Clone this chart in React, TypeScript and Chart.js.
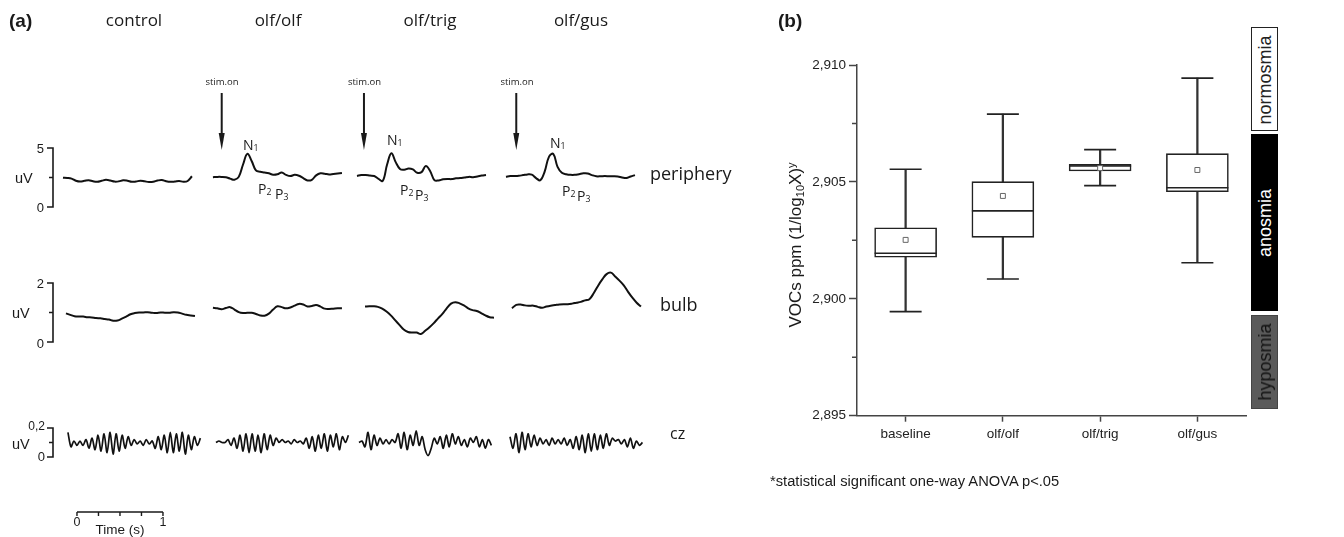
import React, { useEffect, useRef } from 'react';
import { Chart, registerables } from 'chart.js';

Chart.register(...registerables);

// ---------------- Panel (a): evoked potentials ----------------
const COLUMNS = ['control', 'olf/olf', 'olf/trig', 'olf/gus'];
const ROW_LABELS = ['periphery', 'bulb', 'cz'];

const STEP_SLOW = 0.05;
const STEP_CZ = 0.035;
// time (s) at which each column's trace starts, relative to the time bar's 0
const START_PERIPHERY = [-0.163, 1.581, 3.256, 4.988];
const START_BULB = [-0.128, 1.581, 3.349, 5.058];
const START_CZ = [-0.105, 1.616, 3.279, 5.035];
// stimulus onset (s) for the three stimulated columns
const STIM_ON = [1.683, 3.337, 5.108];

// periphery traces (uV)
const PERIPHERY_CONTROL = [2.48, 2.46, 2.4, 2.22, 2.15, 2.22, 2.27, 2.18, 2.14, 2.22, 2.3, 2.24, 2.15, 2.17, 2.26, 2.22, 2.13, 2.16, 2.22, 2.17, 2.12, 2.14, 2.24, 2.28, 2.18, 2.13, 2.15, 2.2, 2.14, 2.2, 2.6];
const PERIPHERY_OLF = [2.52, 2.55, 2.55, 2.52, 2.4, 2.3, 2.55, 3.6, 4.5, 3.9, 3.1, 2.98, 2.92, 2.85, 2.74, 2.78, 2.92, 2.72, 2.62, 2.72, 2.65, 2.45, 2.25, 2.3, 2.68, 2.86, 2.82, 2.76, 2.8, 2.84, 2.88];
const PERIPHERY_TRIG = [2.63, 2.7, 2.71, 2.66, 2.62, 2.38, 2.22, 3.6, 4.55, 3.8, 3.22, 3.16, 3.26, 3.18, 2.9, 2.95, 3.47, 3.05, 2.28, 2.25, 2.35, 2.38, 2.36, 2.43, 2.45, 2.5, 2.55, 2.52, 2.58, 2.66, 2.71];
const PERIPHERY_GUS = [2.57, 2.62, 2.62, 2.64, 2.7, 2.76, 2.74, 2.45, 2.26, 3.0, 4.25, 4.5, 3.4, 2.9, 2.78, 2.72, 2.72, 2.78, 2.85, 2.84, 2.7, 2.6, 2.6, 2.62, 2.6, 2.6, 2.58, 2.5, 2.45, 2.58, 2.7];

// bulb traces (uV)
const BULB_CONTROL = [0.97, 0.92, 0.87, 0.86, 0.86, 0.84, 0.83, 0.81, 0.8, 0.78, 0.76, 0.72, 0.73, 0.79, 0.86, 0.94, 0.98, 1.0, 1.0, 1.01, 0.99, 0.98, 1.0, 0.99, 0.99, 1.01, 1.0, 0.96, 0.92, 0.9, 0.88];
const BULB_OLF = [1.16, 1.14, 1.11, 1.15, 1.18, 1.1, 1.01, 0.98, 0.99, 0.99, 0.95, 0.9, 0.89, 0.96, 1.1, 1.21, 1.18, 1.14, 1.17, 1.23, 1.29, 1.27, 1.2, 1.22, 1.25, 1.2, 1.13, 1.12, 1.13, 1.14, 1.14];
const BULB_TRIG = [1.2, 1.21, 1.21, 1.19, 1.13, 1.03, 0.9, 0.74, 0.58, 0.42, 0.34, 0.32, 0.32, 0.27, 0.38, 0.5, 0.64, 0.8, 0.95, 1.14, 1.3, 1.35, 1.31, 1.24, 1.14, 1.08, 1.05, 0.98, 0.9, 0.84, 0.82];
const BULB_GUS = [1.14, 1.26, 1.27, 1.24, 1.23, 1.23, 1.19, 1.16, 1.2, 1.23, 1.25, 1.27, 1.28, 1.28, 1.3, 1.33, 1.36, 1.41, 1.45, 1.65, 1.9, 2.12, 2.3, 2.35, 2.22, 2.08, 1.92, 1.7, 1.5, 1.33, 1.2];

// cz traces (uV)
const CZ_CONTROL = [0.17, 0.07, 0.11, 0.08, 0.11, 0.08, 0.12, 0.06, 0.13, 0.05, 0.15, 0.04, 0.16, 0.03, 0.17, 0.02, 0.16, 0.04, 0.15, 0.06, 0.14, 0.08, 0.12, 0.09, 0.11, 0.08, 0.12, 0.09, 0.11, 0.06, 0.14, 0.05, 0.15, 0.03, 0.17, 0.03, 0.16, 0.04, 0.17, 0.02, 0.15, 0.05, 0.14, 0.08, 0.13];
const CZ_OLF = [0.1, 0.11, 0.1, 0.1, 0.12, 0.08, 0.13, 0.06, 0.15, 0.04, 0.16, 0.03, 0.16, 0.04, 0.15, 0.03, 0.16, 0.05, 0.15, 0.08, 0.13, 0.1, 0.12, 0.1, 0.11, 0.09, 0.12, 0.1, 0.11, 0.09, 0.13, 0.06, 0.14, 0.04, 0.15, 0.06, 0.16, 0.04, 0.15, 0.07, 0.16, 0.05, 0.14, 0.1, 0.15];
const CZ_TRIG = [0.1, 0.11, 0.07, 0.17, 0.05, 0.15, 0.08, 0.13, 0.09, 0.12, 0.09, 0.12, 0.1, 0.16, 0.06, 0.17, 0.05, 0.15, 0.08, 0.18, 0.08, 0.14, 0.05, 0.01, 0.06, 0.13, 0.09, 0.14, 0.06, 0.15, 0.07, 0.16, 0.09, 0.14, 0.08, 0.12, 0.07, 0.13, 0.1, 0.14, 0.07, 0.12, 0.06, 0.12, 0.08];
const CZ_GUS = [0.14, 0.06, 0.16, 0.03, 0.17, 0.05, 0.16, 0.07, 0.15, 0.08, 0.13, 0.09, 0.12, 0.08, 0.13, 0.09, 0.12, 0.09, 0.13, 0.08, 0.12, 0.06, 0.14, 0.05, 0.15, 0.03, 0.16, 0.04, 0.16, 0.05, 0.15, 0.06, 0.16, 0.08, 0.13, 0.11, 0.12, 0.09, 0.12, 0.07, 0.13, 0.06, 0.11, 0.08, 0.1];

// calibration bars
const PERIPHERY_BAR = [0, 2.5, 5];
const BULB_BAR = [0, 1, 2];
const CZ_BAR = [0, 0.1, 0.2];
const TIME_TICKS = [0, 0.25, 0.5, 0.75, 1];

// ---------------- Panel (b): box plot ----------------
const CATEGORIES = ['baseline', 'olf/olf', 'olf/trig', 'olf/gus'];
const WHISKER_LOW = [2.89945, 2.90085, 2.90484, 2.90154];
const Q1 = [2.90178, 2.90263, 2.90547, 2.90458];
const MEDIAN = [2.90195, 2.90376, 2.90568, 2.90475];
const Q3 = [2.90304, 2.90501, 2.90575, 2.90621];
const WHISKER_HIGH = [2.90554, 2.9079, 2.90638, 2.90944];
const MEAN = [2.90252, 2.9044, 2.90559, 2.90551];
const Y_MIN = 2.895;
const Y_MAX = 2.91;
const Y_STEP = 0.005;
const Y_MINOR_TICKS = [2.8975, 2.9025, 2.9075];

const HUMANIST = '"Open Sans", "Noto Sans", sans-serif';
const ARIAL = '"Liberation Sans", Arial, sans-serif';
const INK = '#1a1a1a';

type TProps = {
  x: number; y: number; size: number; family?: string; anchor?: 'left' | 'center' | 'right';
  weight?: number; color?: string; rotate?: number; children: React.ReactNode;
};
function T({ x, y, size, family = HUMANIST, anchor = 'left', weight = 400, color = INK, rotate = 0, children }: TProps) {
  const tx = anchor === 'left' ? '0' : anchor === 'right' ? '-100%' : '-50%';
  return (
    <div
      style={{
        position: 'absolute', left: x, top: y, fontSize: size, fontFamily: family, fontWeight: weight,
        color, lineHeight: 1, whiteSpace: 'nowrap',
        transform: `translate(${tx}, -50%)` + (rotate ? ` rotate(${rotate}deg)` : ''),
      }}
    >
      {children}
    </div>
  );
}

const sub = (s: string) => <span style={{ fontSize: '0.62em', verticalAlign: '-0.12em' }}>{s}</span>;

function series(values: number[], start: number, step: number) {
  return values.map((v, i) => ({ x: start + i * step, y: v }));
}

export default function App() {
  const refA = useRef<HTMLCanvasElement>(null);
  const refB = useRef<HTMLCanvasElement>(null);

  useEffect(() => {
    const traceStyle = { borderColor: '#111', borderWidth: 2, pointRadius: 0, tension: 0.4, fill: false };
    const czStyle = { borderColor: '#111', borderWidth: 1.7, pointRadius: 0, tension: 0.3, fill: false };
    const periphery = [PERIPHERY_CONTROL, PERIPHERY_OLF, PERIPHERY_TRIG, PERIPHERY_GUS];
    const bulb = [BULB_CONTROL, BULB_OLF, BULB_TRIG, BULB_GUS];
    const cz = [CZ_CONTROL, CZ_OLF, CZ_TRIG, CZ_GUS];
    const datasetsA: any[] = [];
    COLUMNS.forEach((c, i) => {
      datasetsA.push({ label: `${c} ${ROW_LABELS[0]}`, data: series(periphery[i], START_PERIPHERY[i], STEP_SLOW), yAxisID: 'yP', ...traceStyle });
      datasetsA.push({ label: `${c} ${ROW_LABELS[1]}`, data: series(bulb[i], START_BULB[i], STEP_SLOW), yAxisID: 'yB', ...traceStyle });
      datasetsA.push({ label: `${c} ${ROW_LABELS[2]}`, data: series(cz[i], START_CZ[i], STEP_CZ), yAxisID: 'yC', ...czStyle });
    });

    const panelAPlugin = {
      id: 'panelA',
      afterDatasetsDraw(chart: any) {
        const { ctx, scales } = chart;
        const xs = scales.x;
        ctx.save();
        ctx.strokeStyle = INK;
        ctx.fillStyle = INK;
        ctx.lineWidth = 1.6;
        const barX = 53;
        const bars: [any, number[]][] = [[scales.yP, PERIPHERY_BAR], [scales.yB, BULB_BAR], [scales.yC, CZ_BAR]];
        bars.forEach(([s, ticks]) => {
          ctx.beginPath();
          ctx.moveTo(barX, s.getPixelForValue(ticks[ticks.length - 1]));
          ctx.lineTo(barX, s.getPixelForValue(ticks[0]));
          ticks.forEach((t, i) => {
            const py = s.getPixelForValue(t);
            const len = i === 1 ? 4 : 6;
            ctx.moveTo(barX - len, py);
            ctx.lineTo(barX + 0.8, py);
          });
          ctx.stroke();
        });
        STIM_ON.forEach((t) => {
          const px = xs.getPixelForValue(t);
          ctx.lineWidth = 2;
          ctx.beginPath();
          ctx.moveTo(px, 93);
          ctx.lineTo(px, 138);
          ctx.stroke();
          ctx.beginPath();
          ctx.moveTo(px - 3, 133);
          ctx.lineTo(px + 3, 133);
          ctx.lineTo(px, 150);
          ctx.closePath();
          ctx.fill();
        });
        ctx.lineWidth = 1.4;
        const ty = 512;
        ctx.beginPath();
        ctx.moveTo(xs.getPixelForValue(TIME_TICKS[0]), ty);
        ctx.lineTo(xs.getPixelForValue(TIME_TICKS[TIME_TICKS.length - 1]), ty);
        TIME_TICKS.forEach((t) => {
          const px = xs.getPixelForValue(t);
          ctx.moveTo(px, ty);
          ctx.lineTo(px, ty + 4);
        });
        ctx.stroke();
        ctx.restore();
      },
    };

    const chartA = new Chart(refA.current as HTMLCanvasElement, {
      type: 'line',
      data: { datasets: datasetsA },
      options: {
        animation: false,
        responsive: false,
        layout: { padding: 0 },
        plugins: { legend: { display: false }, tooltip: { enabled: false } },
        scales: {
          x: { type: 'linear', min: -0.895, max: 7.942, display: false },
          yP: { type: 'linear', min: -27.97, max: 17.54, display: false },
          yB: { type: 'linear', min: -6.61, max: 11.59, display: false },
          yC: { type: 'linear', min: -0.552, max: 3.152, display: false },
        },
      },
      plugins: [panelAPlugin],
    } as any);

    const minorPlugin = {
      id: 'minorTicks',
      afterDraw(chart: any) {
        const { ctx, chartArea, scales } = chart;
        ctx.save();
        ctx.strokeStyle = '#444';
        ctx.lineWidth = 1.5;
        ctx.beginPath();
        Y_MINOR_TICKS.forEach((v) => {
          const py = scales.y.getPixelForValue(v);
          ctx.moveTo(chartArea.left - 5, py);
          ctx.lineTo(chartArea.left, py);
        });
        ctx.stroke();
        ctx.restore();
      },
    };

    const boxData = CATEGORIES.map((_, i) => [Q1[i], Q3[i]]);
    const stemData = CATEGORIES.map((_, i) => [WHISKER_LOW[i], WHISKER_HIGH[i]]);
    const pointLine = (data: number[], r: number) => ({
      type: 'line', data, showLine: false, pointStyle: 'line', pointRadius: r, pointHoverRadius: r,
      pointBorderColor: '#222', pointBorderWidth: 1.6, order: 0,
    });

    const chartB = new Chart(refB.current as HTMLCanvasElement, {
      type: 'bar',
      data: {
        labels: CATEGORIES,
        datasets: [
          {
            type: 'line', label: 'mean', data: MEAN, showLine: false, pointStyle: 'rect', pointRadius: 3.5,
            pointBackgroundColor: '#fff', pointBorderColor: '#666', pointBorderWidth: 1, order: 0,
          },
          { label: 'median', ...pointLine(MEDIAN, 31) },
          { label: 'max', ...pointLine(WHISKER_HIGH, 16) },
          { label: 'min', ...pointLine(WHISKER_LOW, 16) },
          {
            type: 'bar', label: 'IQR', data: boxData, backgroundColor: '#fff', borderColor: '#222', borderWidth: 1.6,
            borderSkipped: false, barThickness: 62, grouped: false, order: 1,
          },
          {
            type: 'bar', label: 'whisker', data: stemData, backgroundColor: '#333', borderWidth: 0,
            barThickness: 1.6, grouped: false, order: 2,
          },
        ],
      },
      options: {
        animation: false,
        responsive: false,
        layout: { padding: { top: 65, right: 98, left: 0, bottom: 0 } },
        plugins: { legend: { display: false }, tooltip: { enabled: false } },
        scales: {
          x: {
            type: 'category', offset: true,
            grid: { drawOnChartArea: false, offset: false, tickLength: 6, tickColor: '#444', tickWidth: 1.5 },
            border: { display: true, color: '#444', width: 1.5 },
            ticks: { font: { family: ARIAL, size: 13.5 }, color: '#222', padding: 4, maxRotation: 0 },
            afterFit: (s: any) => { s.height = 121.3; },
          },
          y: {
            type: 'linear', min: Y_MIN, max: Y_MAX,
            grid: { drawOnChartArea: false, tickLength: 8, tickColor: '#444', tickWidth: 1.5 },
            border: { display: true, color: '#444', width: 1.5 },
            ticks: {
              stepSize: Y_STEP, font: { family: ARIAL, size: 13.5 }, color: '#222', padding: 3,
              callback: (v: any) => Number(v).toFixed(3).replace('.', ','),
            },
            afterFit: (s: any) => { s.width = 97; },
          },
        },
      },
      plugins: [minorPlugin],
    } as any);

    return () => {
      chartA.destroy();
      chartB.destroy();
    };
  }, []);

  const colX = [134, 278, 430, 581];
  const stimX = [222, 364.5, 517];

  return (
    <div style={{ position: 'absolute', left: 0, top: 0, width: 1344, height: 537, background: '#fff', overflow: 'hidden' }}>
      <canvas ref={refA} width={760} height={537} style={{ position: 'absolute', left: 0, top: 0 }} />
      <canvas ref={refB} width={584} height={537} style={{ position: 'absolute', left: 760, top: 0 }} />

      {/* Panel (a) text */}
      <T x={9} y={19.5} size={19} family={ARIAL} weight={700}>(a)</T>
      {COLUMNS.map((c, i) => (
        <T key={c} x={colX[i]} y={18.5} size={17} anchor="center">{c}</T>
      ))}
      {stimX.map((x) => (
        <T key={x} x={x} y={82} size={9.5} anchor="center">stim.on</T>
      ))}
      <T x={243} y={145} size={14}>N{sub('1')}</T>
      <T x={387} y={139.5} size={14}>N{sub('1')}</T>
      <T x={550} y={143} size={14}>N{sub('1')}</T>
      <T x={258} y={189} size={14}>P{sub('2')}</T>
      <T x={275} y={194} size={14}>P{sub('3')}</T>
      <T x={400} y={190} size={14}>P{sub('2')}</T>
      <T x={415} y={195} size={14}>P{sub('3')}</T>
      <T x={562} y={191} size={14}>P{sub('2')}</T>
      <T x={577} y={196} size={14}>P{sub('3')}</T>
      <T x={650} y={173} size={18}>{ROW_LABELS[0]}</T>
      <T x={660} y={304} size={18}>{ROW_LABELS[1]}</T>
      <T x={670} y={433} size={16}>{ROW_LABELS[2]}</T>

      <T x={44} y={148} size={13} family={ARIAL} anchor="right">5</T>
      <T x={44} y={206.5} size={13} family={ARIAL} anchor="right">0</T>
      <T x={15} y={178} size={14.5} family={ARIAL}>uV</T>
      <T x={44} y={282.7} size={13} family={ARIAL} anchor="right">2</T>
      <T x={44} y={342.5} size={13} family={ARIAL} anchor="right">0</T>
      <T x={12} y={313} size={14.5} family={ARIAL}>uV</T>
      <T x={45} y={426} size={12} family={ARIAL} anchor="right">0,2</T>
      <T x={45} y={455.5} size={13} family={ARIAL} anchor="right">0</T>
      <T x={12} y={443.5} size={14.5} family={ARIAL}>uV</T>

      <T x={77} y={522} size={12.5} family={ARIAL} anchor="center">0</T>
      <T x={163} y={522} size={12.5} family={ARIAL} anchor="center">1</T>
      <T x={120} y={530} size={13.5} family={ARIAL} anchor="center">Time (s)</T>

      {/* Panel (b) text */}
      <T x={778} y={20} size={19} family={ARIAL} weight={700}>(b)</T>
      <T x={795.5} y={245} size={17} family={ARIAL} anchor="center" rotate={-90}>
        VOCs ppm (1/log<span style={{ fontSize: '0.65em', verticalAlign: '-0.25em' }}>10</span>X)
        <span style={{ fontSize: '0.65em', verticalAlign: '0.6em' }}>y</span>
      </T>

      <div style={{ position: 'absolute', left: 1251, top: 27, width: 27, height: 104, border: '1px solid #222', background: '#fff', boxSizing: 'border-box' }} />
      <T x={1264.5} y={80} size={18} family={ARIAL} anchor="center" rotate={-90} color="#222">normosmia</T>
      <div style={{ position: 'absolute', left: 1251, top: 134, width: 27, height: 177, background: '#000' }} />
      <T x={1264.5} y={222.5} size={18} family={ARIAL} anchor="center" rotate={-90} color="#fff">anosmia</T>
      <div style={{ position: 'absolute', left: 1251, top: 315, width: 27, height: 94, border: '1px solid #444', background: '#5a5a5a', boxSizing: 'border-box' }} />
      <T x={1264.5} y={362} size={18} family={ARIAL} anchor="center" rotate={-90} color="#111">hyposmia</T>

      <T x={770} y={481} size={14.7} family={ARIAL}>*statistical significant one-way ANOVA p&lt;.05</T>
    </div>
  );
}
